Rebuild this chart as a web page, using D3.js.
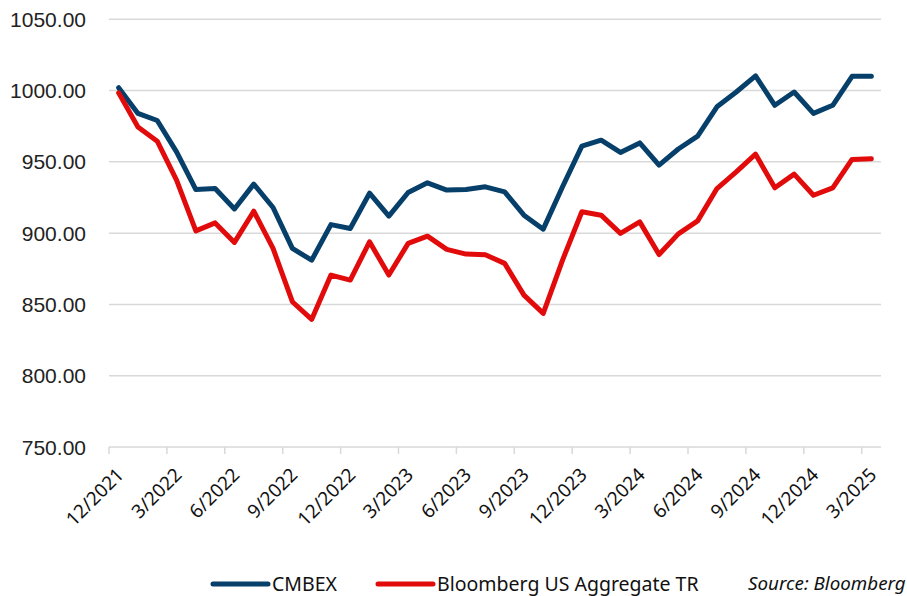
<!DOCTYPE html>
<html>
<head>
<meta charset="utf-8">
<script src="https://cdn.jsdelivr.net/npm/d3@7"></script>
<style>
  body { margin: 0; background: #fff; }
  #chart { display: block; }
</style>
</head>
<body>
<svg id="chart" width="907" height="596"></svg>
<script>
// monthly points, 12/2021 .. 3/2025
const months = [];
for (let i = 0; i < 40; i++) {
  const m = ((11 + i) % 12) + 1;
  const y = 2021 + Math.floor((11 + i) / 12);
  months.push(`${m}/${y}`);
}

const cmbex = [
  1002, 984, 979, 957, 930.6, 931.3, 917, 934.4, 918, 889.3,
  881, 906, 903.3, 928, 912, 928.5, 935.3, 930.2, 930.6, 932.5,
  929, 912.6, 902.8, 932.5, 961, 965.2, 956.6, 963.3, 947.7, 959,
  968, 988.6, 999, 1010.3, 989.7, 999, 984, 989.7, 1010, 1010,
];

const aggTR = [
  998.4, 974.5, 964.5, 937.2, 901.6, 907.2, 893.5, 915.4, 889.3, 851.9,
  839.5, 870.6, 867.1, 893.9, 870.6, 892.8, 897.9, 888.6, 885.3, 884.8,
  878.8, 856.5, 843.7, 881.1, 915, 912.6, 899.8, 907.9, 885, 899.5,
  908.6, 931.3, 943, 955.4, 931.8, 941.4, 926.6, 931.8, 951.7, 952.1,
];

const yTicks = [750, 800, 850, 900, 950, 1000, 1050];
const series = [
  { name: "CMBEX", values: cmbex, color: "#063f6a" },
  { name: "Bloomberg US Aggregate TR", values: aggTR, color: "#e20b0b" },
];

const svg = d3.select("#chart");

const x = d3.scaleBand().domain(months).range([109, 881]).padding(0);
const y = d3.scaleLinear().domain([750, 1050]).range([447, 19.3]);

// gridlines
svg.append("g")
  .selectAll("line")
  .data(yTicks)
  .join("line")
  .attr("x1", 109)
  .attr("x2", 881)
  .attr("y1", (d) => y(d))
  .attr("y2", (d) => y(d))
  .attr("stroke", "#d9d9d9")
  .attr("stroke-width", 1.5);

// y labels
svg.append("g")
  .selectAll("text")
  .data(yTicks)
  .join("text")
  .attr("x", 86)
  .attr("y", (d) => y(d))
  .attr("dy", "0.36em")
  .attr("text-anchor", "end")
  .attr("font-family", "'Liberation Sans', Arial, sans-serif")
  .attr("font-size", 21)
  .attr("fill", "#222")
  .text((d) => d3.format(".2f")(d));

// x ticks every 3 months at category boundaries
const tickMonths = months.filter((d, i) => i % 3 === 0);
const xAxisG = svg.append("g");
xAxisG.selectAll("line")
  .data(tickMonths)
  .join("line")
  .attr("x1", (d) => x(d))
  .attr("x2", (d) => x(d))
  .attr("y1", y(750))
  .attr("y2", y(750) + 7)
  .attr("stroke", "#d9d9d9")
  .attr("stroke-width", 1.5);

xAxisG.selectAll("text")
  .data(tickMonths)
  .join("text")
  .attr("transform", (d) => `translate(${x(d) + 16},${y(750) + 29}) rotate(-45)`)
  .attr("text-anchor", "end")
  .attr("font-family", "'Noto Sans', sans-serif")
  .attr("font-size", 19)
  .attr("fill", "#111")
  .text((d) => d);

// lines
const line = d3.line()
  .x((d, i) => x(months[i]) + x.bandwidth() / 2)
  .y((d) => y(d));

svg.append("g")
  .selectAll("path")
  .data(series)
  .join("path")
  .attr("d", (s) => line(s.values))
  .attr("fill", "none")
  .attr("stroke", (s) => s.color)
  .attr("stroke-width", 5)
  .attr("stroke-linejoin", "round")
  .attr("stroke-linecap", "round");

// legend
const legendX = [213, 378];
const legend = svg.append("g")
  .selectAll("g")
  .data(series)
  .join("g")
  .attr("transform", (d, i) => `translate(${legendX[i]},584)`);

legend.append("line")
  .attr("x1", 0)
  .attr("x2", 55)
  .attr("stroke", (d) => d.color)
  .attr("stroke-width", 5)
  .attr("stroke-linecap", "round");

legend.append("text")
  .attr("x", 59)
  .attr("dy", "0.35em")
  .attr("font-family", "'Noto Sans', sans-serif")
  .attr("font-size", 19.5)
  .attr("fill", "#111")
  .text((d) => d.name);

svg.append("text")
  .attr("x", 748)
  .attr("y", 583)
  .attr("dy", "0.35em")
  .attr("font-family", "'Noto Sans', sans-serif")
  .attr("font-style", "italic")
  .attr("font-size", 18.8)
  .attr("fill", "#111")
  .text("Source: Bloomberg");
</script>
</body>
</html>
